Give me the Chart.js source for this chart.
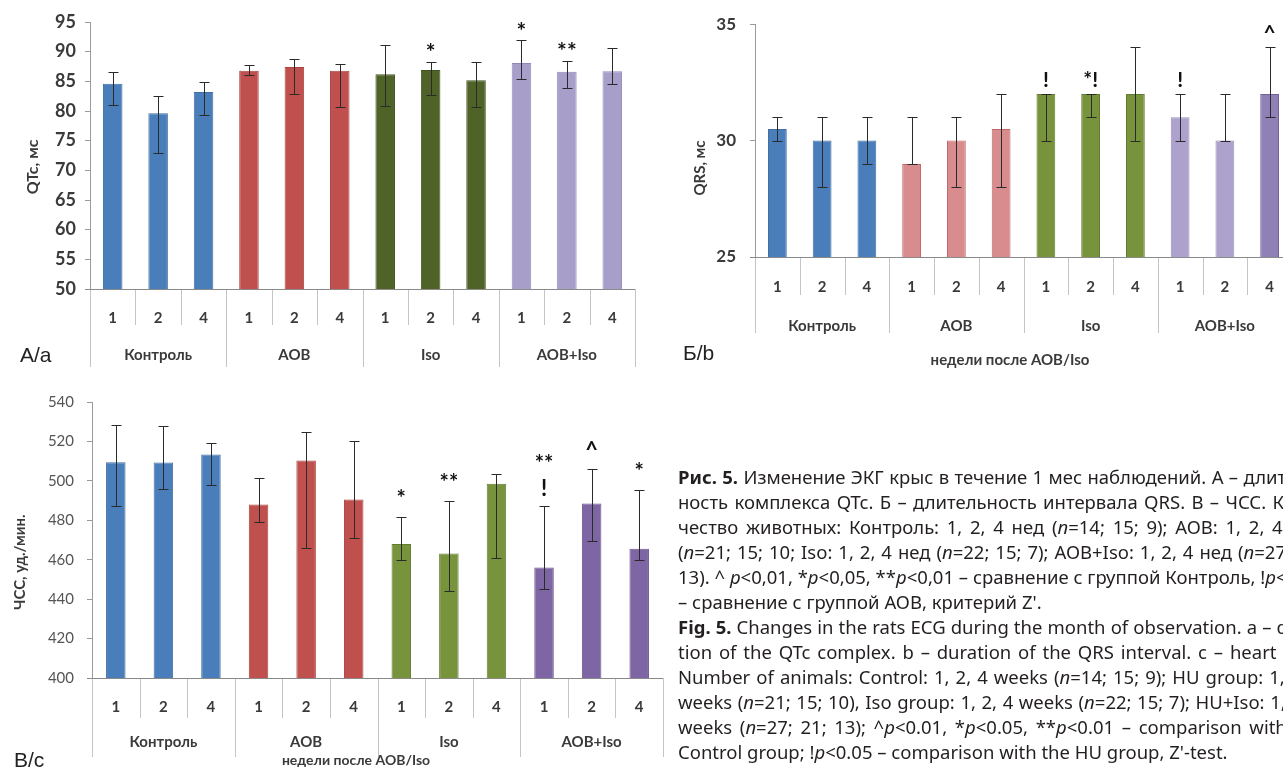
<!DOCTYPE html>
<html><head><meta charset="utf-8">
<script src="https://cdn.jsdelivr.net/npm/chart.js@4.4.0/dist/chart.umd.min.js"></script>
<style>
html,body{margin:0;padding:0;width:1283px;height:773px;overflow:hidden;background:#fff;position:relative;}
canvas{position:absolute;}
.pl{position:absolute;font-family:"Liberation Sans",Arial,sans-serif;font-size:21px;color:#222;line-height:24px;}
#cap{position:absolute;left:678px;top:464px;width:645px;font-family:"Noto Sans",sans-serif;font-size:18.5px;line-height:25px;color:#231f20;}
#cap div{white-space:nowrap;text-align:justify;text-align-last:justify;}
#cap div.last{text-align-last:left;}
</style></head>
<body>
<canvas id="cA" width="645" height="380" style="left:0;top:0"></canvas>
<canvas id="cB" width="640" height="380" style="left:660px;top:0"></canvas>
<canvas id="cC" width="680" height="393" style="left:0;top:380px"></canvas>
<div class="pl" style="left:20px;top:343px">А/a</div>
<div class="pl" style="left:683px;top:341px">Б/b</div>
<div class="pl" style="left:14px;top:748px">В/c</div>
<div id="cap">
<div><b>Рис. 5.</b> Изменение ЭКГ крыс в течение 1 мес наблюдений. А – длитель-</div>
<div>ность комплекса QTc. Б – длительность интервала QRS. В – ЧСС. Коли-</div>
<div>чество животных: Контроль: 1, 2, 4 нед (<i>n</i>=14; 15; 9); АОВ: 1, 2, 4 нед</div>
<div>(<i>n</i>=21; 15; 10; Iso: 1, 2, 4 нед (<i>n</i>=22; 15; 7); АОВ+Iso: 1, 2, 4 нед (<i>n</i>=27; 21;</div>
<div>13). ^ <i>p</i>&lt;0,01, *<i>p</i>&lt;0,05, **<i>p</i>&lt;0,01 – сравнение с группой Контроль, !<i>p</i>&lt;0,05</div>
<div class="last">– сравнение с группой АОВ, критерий Z'.</div>
<div><b>Fig. 5.</b> Changes in the rats ECG during the month of observation. a – dura-</div>
<div>tion of the QTc complex. b – duration of the QRS interval. c – heart rate.</div>
<div>Number of animals: Control: 1, 2, 4 weeks (<i>n</i>=14; 15; 9); HU group: 1, 2, 4</div>
<div>weeks (<i>n</i>=21; 15; 10), Iso group: 1, 2, 4 weeks (<i>n</i>=22; 15; 7); HU+Iso: 1, 2, 4</div>
<div>weeks (<i>n</i>=27; 21; 13); ^<i>p</i>&lt;0.01, *<i>p</i>&lt;0.05, **<i>p</i>&lt;0.01 – comparison with the</div>
<div class="last">Control group; !<i>p</i>&lt;0.05 – comparison with the HU group, Z'-test.</div>
</div>
<script>
// ---- data ----
const weeks = ['1', '2', '4'];
const groups = ['Контроль', 'АОВ', 'Iso', 'АОВ+Iso'];

const qtcTicks = [50, 55, 60, 65, 70, 75, 80, 85, 90, 95];
const qtcMean = [84.6, 79.6, 83.2, 86.8, 87.4, 86.8, 86.2, 86.9, 85.2, 88.1, 86.6, 86.7];
const qtcHigh = [86.6, 82.6, 84.9, 87.7, 88.7, 87.9, 91.1, 88.3, 88.3, 91.9, 88.5, 90.7];
const qtcLow  = [81.0, 73.0, 79.3, 86.1, 82.9, 80.7, 80.8, 82.7, 80.6, 85.4, 83.9, 84.6];
const qtcMarks = ['', '', '', '', '', '', '', '*', '', '*', '**', ''];

const qrsTicks = [25, 30, 35];
const qrsMean = [30.5, 30, 30, 29, 30, 30.5, 32, 32, 32, 31, 30, 32];
const qrsHigh = [31, 31, 31, 31, 31, 32, 32, 32, 34, 32, 32, 34];
const qrsLow  = [30, 28, 29, 29, 28, 28, 30, 31, 30, 30, 30, 31];
const qrsMarks = ['', '', '', '', '', '', '!', '*!', '', '!', '', '^'];

const hrTicks = [400, 420, 440, 460, 480, 500, 520, 540];
const hrMean = [509.5, 509.3, 513.4, 488, 510.3, 490.5, 468, 463.2, 498.5, 456, 488.5, 465.5];
const hrHigh = [528.5, 528, 519, 501.5, 525, 520, 481.5, 490, 503.5, 487, 506, 495.3];
const hrLow  = [487, 496, 498, 479, 466, 471, 460, 444, 461, 445, 469.5, 460];
const hrMarks = ['', '', '', '', '', '', '*', '**', '', '**\n!', '^', '*'];

// ---- build ----
const labels = [];
groups.forEach(() => weeks.forEach(w => labels.push(w)));

function per(cols) { const a = []; cols.forEach(c => { for (let k = 0; k < weeks.length; k++) a.push(c); }); return a; }

const hier = {
  id: 'hier',
  afterDatasetsDraw(chart, args, o) {
    const ctx = chart.ctx, xs = chart.scales.x, ys = chart.scales.y, ca = chart.chartArea;
    const n = chart.data.labels.length;
    const base = ca.bottom;
    ctx.save();
    // error bars
    ctx.strokeStyle = o.errColor; ctx.lineWidth = 1;
    o.high.forEach((h, i) => {
      const x = Math.round(xs.getPixelForValue(i)) + 0.5;
      const y1 = Math.round(ys.getPixelForValue(h)) + 0.5;
      const y2 = Math.round(ys.getPixelForValue(o.low[i])) + 0.5;
      ctx.beginPath();
      ctx.moveTo(x, y1); ctx.lineTo(x, y2);
      ctx.moveTo(x - o.cap, y1); ctx.lineTo(x + o.cap, y1);
      ctx.moveTo(x - o.cap, y2); ctx.lineTo(x + o.cap, y2);
      ctx.stroke();
    });
    // significance marks
    ctx.fillStyle = '#111'; ctx.textAlign = 'center'; ctx.textBaseline = 'middle';
    ctx.font = o.markFont;
    o.marks.forEach((m, i) => {
      if (!m) return;
      const x = xs.getPixelForValue(i);
      const yt = ys.getPixelForValue(o.high[i]);
      const lines = m.split('\n').reverse();
      lines.forEach((t, k) => ctx.fillText(t, x, yt - o.markGap - k * o.markLine));
    });
    // category axis
    const step = xs.getPixelForValue(1) - xs.getPixelForValue(0);
    const x0 = xs.getPixelForValue(0) - step / 2;
    ctx.strokeStyle = o.sepColor; ctx.lineWidth = 1;
    ctx.beginPath();
    for (let i = 0; i <= n; i++) {
      const x = Math.round(x0 + i * step) + 0.5;
      const len = (i % weeks.length === 0) ? o.groupSep : o.catSep;
      ctx.moveTo(x, base); ctx.lineTo(x, base + len);
    }
    ctx.stroke();
    ctx.strokeStyle = o.baseColor;
    ctx.beginPath(); ctx.moveTo(ca.left - 5, Math.round(base) + 0.5); ctx.lineTo(ca.right, Math.round(base) + 0.5); ctx.stroke();
    ctx.fillStyle = o.textColor;
    ctx.font = o.catFont;
    chart.data.labels.forEach((l, i) => ctx.fillText(l, xs.getPixelForValue(i), base + o.catY));
    ctx.font = o.groupFont;
    groups.forEach((g, j) => {
      const xc = x0 + (j * weeks.length + weeks.length / 2) * step;
      ctx.fillText(g, xc, base + o.groupY);
    });
    if (o.xTitle) {
      ctx.font = o.xTitleFont;
      ctx.fillText(o.xTitle, o.xTitleX, o.xTitleY);
    }
    // y title
    ctx.translate(o.yTitleX, o.yTitleY);
    ctx.rotate(-Math.PI / 2);
    ctx.font = o.yTitleFont;
    ctx.fillText(o.yTitle, 0, 0);
    ctx.restore();
  }
};

function make(id, cfg) {
  return new Chart(document.getElementById(id), {
    type: 'bar',
    data: {
      labels: labels,
      datasets: [{
        data: cfg.mean,
        backgroundColor: cfg.colors,
        borderColor: cfg.borders,
        borderWidth: 1,
        barPercentage: cfg.barPct,
        categoryPercentage: 1
      }]
    },
    options: {
      responsive: false,
      animation: false,
      events: [],
      layout: { padding: cfg.pad },
      plugins: {
        legend: { display: false },
        tooltip: { enabled: false },
        hier: cfg.hier
      },
      scales: {
        x: { display: false },
        y: {
          min: cfg.ticks[0], max: cfg.ticks[cfg.ticks.length - 1],
          afterBuildTicks: (s) => { s.ticks = cfg.ticks.map(v => ({ value: v })); },
          afterFit: (s) => { s.width = cfg.yWidth; },
          grid: { drawOnChartArea: false, drawTicks: true, tickLength: 5, color: '#9a9a9a' },
          border: { display: true, color: '#9a9a9a', width: 1 },
          ticks: { padding: cfg.tickPad, color: cfg.tickColor, font: cfg.tickFont }
        }
      }
    },
    plugins: [hier]
  });
}

const FF = 'Lato, "Open Sans", sans-serif';

make('cA', {
  mean: qtcMean, ticks: qtcTicks, yWidth: 90, tickPad: 9, barPct: 0.43,
  pad: { top: 22, bottom: 91, right: 10, left: 0 },
  tickColor: '#3a3a3a', tickFont: { family: FF, size: 18, weight: 'bold' },
  colors: per(['#4A7EBB', '#C0504D', '#4F6228', '#A79ECA']),
  borders: per(['#41709F', '#A84542', '#435422', '#9389B8']),
  hier: {
    high: qtcHigh, low: qtcLow, marks: qtcMarks, errColor: '#2a2a2a', cap: 5,
    markFont: 'bold 23px ' + FF, markGap: 9, markLine: 24,
    sepColor: '#c4c4c4', baseColor: '#8a8a8a', textColor: '#3a3a3a',
    catSep: 36, groupSep: 78, catY: 29, groupY: 66,
    catFont: 'bold 15px ' + FF, groupFont: 'bold 15px ' + FF,
    yTitle: 'QTc, мс', yTitleX: 33, yTitleY: 167, yTitleFont: 'bold 16px ' + FF
  }
});

make('cB', {
  mean: qrsMean, ticks: qrsTicks, yWidth: 95, tickPad: 14, barPct: 0.42,
  pad: { top: 17, bottom: 123, right: 8, left: 0 },
  tickColor: '#3a3a3a', tickFont: { family: FF, size: 17, weight: 'bold' },
  colors: per(['#4A7EBB', '#D98C8D', '#77933C', '#ADA2CD']).map((c, i) => i === 11 ? '#8F80B5' : c),
  borders: per(['#41709F', '#C0696B', '#637B30', '#9A8FBD']).map((c, i) => i === 11 ? '#6F6199' : c),
  hier: {
    high: qrsHigh, low: qrsLow, marks: qrsMarks, errColor: '#2a2a2a', cap: 5,
    markFont: 'bold 21px ' + FF, markGap: 14, markLine: 24,
    sepColor: '#c4c4c4', baseColor: '#8a8a8a', textColor: '#3a3a3a',
    catSep: 38, groupSep: 76, catY: 30, groupY: 69,
    catFont: 'bold 15px ' + FF, groupFont: 'bold 15px ' + FF,
    xTitle: 'недели после АОВ/Iso', xTitleX: 350, xTitleY: 360, xTitleFont: 'bold 15px ' + FF,
    yTitle: 'QRS, мс', yTitleX: 40, yTitleY: 168, yTitleFont: 'bold 15px ' + FF
  }
});

make('cC', {
  mean: hrMean, ticks: hrTicks, yWidth: 92, tickPad: 13, barPct: 0.41,
  pad: { top: 12, bottom: 95, right: 17, left: 0 },
  tickColor: '#555', tickFont: { family: FF, size: 15 },
  colors: per(['#4A7EBB', '#C0504D', '#77933C', '#7E66A4']),
  borders: per(['#41709F', '#A84542', '#637B30', '#6A5690']),
  hier: {
    high: hrHigh, low: hrLow, marks: hrMarks, errColor: '#2a2a2a', cap: 5,
    markFont: 'bold 22px ' + FF, markGap: 18, markLine: 25,
    sepColor: '#c4c4c4', baseColor: '#8a8a8a', textColor: '#3a3a3a',
    catSep: 40, groupSep: 79, catY: 29, groupY: 64,
    catFont: 'bold 15px ' + FF, groupFont: 'bold 15px ' + FF,
    xTitle: 'недели после АОВ/Iso', xTitleX: 356, xTitleY: 380, xTitleFont: 'bold 14px ' + FF,
    yTitle: 'ЧСС, уд./мин.', yTitleX: 20, yTitleY: 182, yTitleFont: 'bold 15px ' + FF
  }
});
</script>
</body></html>
